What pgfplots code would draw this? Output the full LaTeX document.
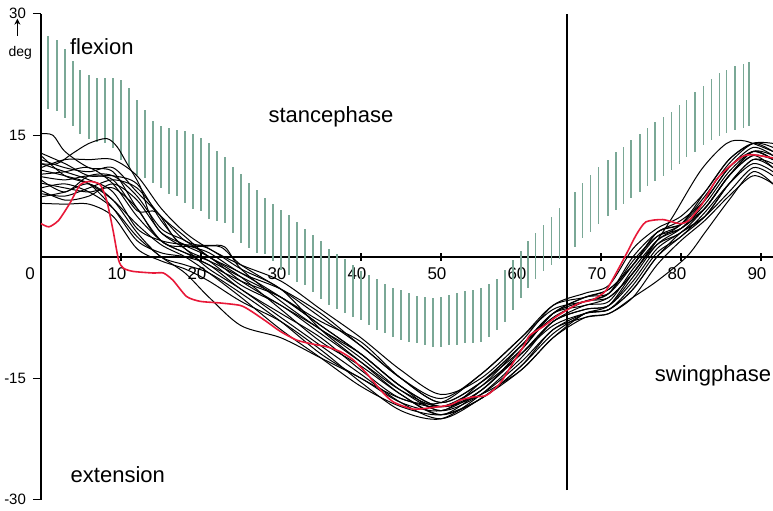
\documentclass[border=0pt]{standalone}
\usepackage{pgfplots}
\pgfplotsset{compat=1.18}
\usepackage{pgfplotstable}
\usetikzlibrary{arrows.meta}
\usepackage{fontspec}
\setmainfont{Liberation Sans}
\definecolor{bandc}{RGB}{122,168,150}
\definecolor{redc}{RGB}{232,24,56}

\pgfplotstableread{
x t b
0.9 27.3 18.2
2 26.8 18.0
3 25.7 17.1
4 24.2 16.1
4.9 23.1 15.1
6 22.4 14.5
7 22.1 14.2
8 22.1 14.0
9 22.1 13.4
10 21.8 11.9
11 20.8 11.1
12 19.4 10.1
13 18.1 9.7
14 16.8 9.1
15 16.1 8.5
16 15.9 7.7
17 15.7 7.5
18 15.5 6.6
19 15.2 5.9
20 14.7 5.6
21 14.0 4.7
22 13.1 4.4
23 12.3 4.2
24 11.1 3.0
25 10.2 1.7
26 9.1 1.1
27 8.2 0.5
28 7.3 0.4
29 6.5 -0.5
30 5.8 -1.6
31 5.2 -2.2
32 4.3 -3.1
33 3.4 -3.5
34 2.7 -4.4
35 1.9 -5.2
36 1.0 -5.9
37 0.4 -6.5
38 -0.3 -6.9
39 -1.0 -7.4
40 -1.7 -7.8
41 -2.2 -8.4
42 -2.8 -9.0
43 -3.3 -9.4
44 -3.8 -9.9
45 -4.1 -10.3
46 -4.5 -10.5
47 -4.8 -10.7
48 -5.0 -10.9
49 -5.1 -11.1
50 -5.0 -11.1
51 -4.7 -10.9
52 -4.5 -10.9
53 -4.2 -10.7
54 -4.1 -10.7
55 -3.8 -10.5
56 -3.3 -9.9
57 -2.7 -9.0
58 -1.6 -8.0
59 -0.4 -6.6
60 0.7 -5.1
60.9 1.9 -3.9
61.8 3.0 -2.7
62.8 3.9 -1.8
63.8 4.9 -1.0
64.8 6.0 -0.3
66.75 8.0 1.2
67.7 9.1 2.3
68.7 10.1 3.1
69.7 11.1 4.1
70.9 11.9 5.0
71.9 12.9 5.8
72.8 13.5 6.5
73.75 14.4 7.2
74.9 15.2 8.0
75.8 15.9 8.7
76.75 16.6 9.3
77.8 17.3 10.0
78.8 17.9 10.7
79.8 18.7 11.5
80.7 19.4 12.3
81.75 20.3 13.0
82.8 21.1 13.8
83.8 22.0 14.4
84.8 22.7 14.9
85.7 23.1 15.3
86.75 23.6 15.6
87.8 23.8 15.9
88.5 24.0 16.1
}\bandtable

\pgfplotsset{bl/.style={black, line width=0.5pt, smooth, tension=0.5, mark=none}}

\begin{document}
\begin{tikzpicture}
\begin{axis}[
  at={(0,0)}, anchor=origin,
  x=4pt, y=4.05pt,
  xmin=0, xmax=91.5, ymin=-30, ymax=30,
  enlargelimits=false,
  clip=false,
  axis x line=middle, axis y line=left,
  axis line style={-, line width=0.9pt, black},
  hide obscured x ticks=false,
  xtick={0,10,...,90}, ytick={-30,-15,15,30},
  xticklabels={\hspace*{-7pt}0,10,20,30,40,50,60,70,80,90},
  xtick align=center, ytick align=outside,
  major tick length=4pt,
  tick style={black, line width=0.6pt},
  /pgf/number format/assume math mode=true,
  yticklabel style={font=\fontsize{7.5}{8}\selectfont},
  xticklabel style={font=\fontsize{8.5}{9}\selectfont, xshift=-2pt, yshift=0pt},
]
\addplot[draw=none, mark=none, forget plot,
  error bars/.cd, y dir=both, y explicit, error mark=none,
  error bar style={draw=bandc, solid, line width=0.75pt}]
  table[x=x, y expr={(\thisrow{t}+\thisrow{b})/2}, y error expr={(\thisrow{t}-\thisrow{b})/2}] {\bandtable};

\addplot[black, line width=1pt, mark=none] coordinates {(65.7,-28.8)(65.7,30)};

\addplot[bl] coordinates {(0,11.5)(2,11.5)(4,12.8)(6,14)(8.2,14.6)(9.5,13.6)(10.7,11.6)(12.4,8.7)(13.5,5.5)(15,3)(18,1.5)(21,0.5)(25,-2)(30,-4)(35,-7)(40,-11)(45,-15)(50,-17.5)(55,-14.5)(60,-10)(64,-6)(68,-5)(71,-4)(74,-1)(77,2.5)(80,4)(83,8)(86,12)(89,14)(91.5,13)};
\addplot[bl] coordinates {(0,15.2)(1.5,15)(3,13)(6,11)(9,10.5)(12,6)(15,2)(18,0.5)(21,-1)(25,-3)(30,-5)(35,-8.5)(40,-12)(45,-16)(50,-19)(55,-15.5)(60,-11)(64,-7)(68,-6)(71,-5)(74,-2)(77,2)(80,3.5)(83,6)(86,10)(89,13)(91.5,12)};
\addplot[bl] coordinates {(0,12)(3,11)(6,10.5)(9,11)(12,8)(15,5)(18,2)(21,1)(25,-1.5)(30,-4)(35,-9)(40,-13)(45,-17)(50,-19.5)(55,-16.5)(60,-12)(64,-8)(68,-6.5)(71,-6)(74,-3)(77,1)(80,3)(83,5)(86,9)(89,12)(91.5,11)};
\addplot[bl] coordinates {(0,10.7)(3,10)(6,9)(9,6)(12,2)(15,0.5)(18,0)(21,-1)(25,-4)(30,-7)(35,-10)(40,-14)(45,-17.5)(50,-18)(55,-14.5)(60,-10)(64,-6.5)(68,-5.5)(71,-4.5)(74,0)(77,3)(80,4.5)(83,7)(86,11)(89,13.5)(91.5,12.5)};
\addplot[bl] coordinates {(0,9.9)(3,9.5)(6,10)(9,9.5)(12,5.7)(14.5,5.5)(17,2)(21,0)(25,-3)(30,-6)(35,-9)(40,-12.5)(45,-16.5)(50,-19)(55,-17)(60,-13)(64,-9)(68,-7)(71,-6.5)(74,-4)(77,0)(80,3)(83,5)(86,8)(89,11)(91.5,10)};
\addplot[bl] coordinates {(0,9.1)(3,8.5)(6,8)(9,8.5)(12,6)(14,3)(16,1.4)(20,1.3)(22.5,1.2)(25,-1)(30,-4)(35,-7.5)(40,-11)(45,-15)(50,-18)(55,-15.5)(60,-11.5)(64,-7)(68,-5)(71,-4)(74,-1)(77,3)(80,4)(83,6)(86,10)(89,12.5)(91.5,12)};
\addplot[bl] coordinates {(0,8.2)(3,7)(6,7.5)(9,9)(12,7)(15,3)(18,1)(21,-1.5)(25,-4)(30,-7.5)(35,-11)(40,-14.5)(45,-18)(50,-20)(55,-17.5)(60,-14)(64,-10)(68,-7)(71,-6.5)(74,-3.5)(77,0.5)(80,2.5)(83,5.5)(86,9)(89,11.5)(91.5,10.5)};
\addplot[bl] coordinates {(0,7.4)(3,8)(6,9)(9,7)(12,3)(15,0)(18,-1)(21,-2)(25,-4.5)(30,-8)(35,-12)(40,-15)(45,-17.5)(50,-18.5)(55,-16)(60,-12)(64,-8)(68,-6)(71,-5.5)(74,-1.5)(77,2)(80,4)(83,7.5)(86,11.5)(89,14)(91.5,13.5)};
\addplot[bl] coordinates {(0,6.6)(3,6.5)(6,6.5)(9,5)(12,1)(15,-0.5)(18,-1.5)(21,-3)(25,-5.5)(30,-8)(35,-11.5)(40,-15.5)(45,-19)(50,-20)(55,-17)(60,-12.5)(64,-8)(68,-6.5)(71,-6)(74,-2.5)(77,1.5)(80,3.5)(83,6.5)(86,10.5)(89,13)(91.5,12)};
\addplot[bl] coordinates {(0,11)(3,12)(6,12)(9,12)(12,10)(15,6)(18,3)(21,1)(25,-1)(30,-3)(35,-6.5)(40,-10)(45,-14)(50,-17)(55,-15)(60,-10.5)(64,-6)(68,-4.5)(71,-3.5)(74,1)(77,3.5)(80,5)(83,8)(86,12)(89,14)(91.5,14)};
\addplot[bl] coordinates {(0,12.5)(3,10)(6,9)(9,7)(12,4)(15,1.5)(18,0)(21,-2)(25,-5)(30,-9)(35,-12.5)(40,-16)(45,-18.5)(50,-19.5)(55,-17.5)(60,-13.5)(64,-9)(68,-7.5)(71,-7)(74,-5)(77,-1)(80,2)(83,4.5)(86,7.5)(89,10)(91.5,9)};
\addplot[bl] coordinates {(0,8.5)(3,9)(6,8)(9,6)(12,2.5)(15,0)(18,-2)(21,-5)(25,-8.5)(30,-10)(35,-12.5)(40,-15)(45,-18)(50,-19)(55,-16.5)(60,-12)(64,-8.5)(68,-7)(71,-6.5)(74,-4)(77,0)(80,2.5)(83,5)(86,9)(89,12)(91.5,11.5)};
\addplot[bl] coordinates {(0,10.2)(3,10.5)(6,11)(9,9)(12,5)(15,2)(18,0.5)(21,-0.5)(25,-2.5)(30,-5)(35,-8)(40,-10.5)(45,-15)(50,-18)(55,-15.5)(60,-11)(64,-7.5)(68,-5.5)(71,-4.5)(74,-0.5)(77,2.5)(80,3.5)(83,6)(86,10)(89,12.5)(91.5,11)};
\addplot[bl] coordinates {(0,9.5)(3,8)(6,10)(9,10)(12,7.5)(15,3.5)(18,2)(21,0)(25,-2.5)(30,-6.5)(35,-10.5)(40,-13.5)(45,-17)(50,-19.5)(55,-17.5)(60,-13.5)(64,-9.5)(68,-7)(71,-6)(74,-2)(77,1.5)(80,3)(83,6)(86,10)(89,13)(91.5,12.5)};
\addplot[bl] coordinates {(0,11.5)(3,10.5)(6,9.5)(9,8)(12,3.5)(15,2)(18,1.5)(21,1.4)(23,1.2)(25,-1.5)(30,-5.5)(35,-9)(40,-12)(45,-16)(50,-18.5)(55,-16.5)(60,-11.5)(64,-7)(68,-5)(71,-4.5)(74,-1)(77,3)(80,4)(83,7)(86,11)(89,13)(91.5,12)};
\addplot[bl] coordinates {(0,12.8)(3,11.5)(6,10)(9,10)(12,9)(15,4.5)(18,1)(21,-0.5)(25,-3.5)(30,-6)(35,-9.5)(40,-13)(45,-16.5)(50,-18.5)(55,-16)(60,-11)(64,-7)(68,-5.5)(71,-5)(74,-2)(77,2)(79,5)(82.5,10.7)(85.7,14)(88,14.3)(91.5,13)};
\addplot[bl] coordinates {(0,7.8)(3,7.5)(6,8.5)(9,9.5)(12,8.5)(15,5)(18,2.5)(21,0)(25,-2)(30,-5)(35,-8.5)(40,-12)(45,-16)(50,-18.5)(55,-17)(60,-14)(64,-10)(68,-7.5)(71,-7)(74,-5)(77,-3)(80.7,0)(83,3)(86,7)(89,10.5)(91.5,9)};

\addplot[redc, line width=0.8pt, smooth, tension=0.4, mark=none] coordinates {
(0,4.1)(1,3.7)(2.2,4.5)(3.6,6.6)(4.9,8.9)(6.1,9.3)(7.4,8.9)(8.2,7.0)(9.0,3.3)(9.7,-0.4)(10.3,-1.4)(11.5,-1.8)(14,-2.0)(15.3,-2.0)(16.5,-2.9)(18.2,-4.9)(19.9,-5.5)(22.4,-5.7)(24.9,-6.0)(26.1,-6.6)(28.2,-8.0)(29.9,-9.2)(32,-10.3)(34.1,-10.8)(35.7,-11.1)(37.4,-11.7)(39,-12.7)(40.7,-14.4)(42.4,-16.4)(44,-17.9)(46.5,-18.8)(49,-18.6)(51.1,-18.3)(52.4,-17.7)(54,-17.3)(55.7,-17.1)(57.4,-15.6)(59,-13.1)(60.3,-11.1)(61.1,-9.7)(62.8,-8.6)(64.4,-7.4)(65.7,-6.6)(67.3,-5.7)(69,-5.3)(70.6,-4.2)(71.9,-2.0)(73.2,0.4)(74.4,2.7)(75.6,4.3)(77.7,4.6)(79.8,4.1)(81,4.5)(82.7,6.6)(84.4,9.5)(86,11.1)(87.7,12.4)(89,12.6)(91.5,12.2)};

\node[font=\fontsize{11}{13}\selectfont] at (axis cs:7.6,26.0) {flexion};
\node[font=\fontsize{11}{13}\selectfont] at (axis cs:36.25,17.25) {stancephase};
\node[font=\fontsize{11}{13}\selectfont] at (axis cs:84,-14.7) {swingphase};
\node[font=\fontsize{11}{13}\selectfont] at (axis cs:9.6,-26.9) {extension};
\node[font=\fontsize{7}{8}\selectfont] at (axis cs:-2.6,25.2) {deg};
\draw[-{Stealth[length=3pt,width=3pt]}, line width=0.6pt] (axis cs:-2.95,27.3) -- (axis cs:-2.95,29.4);
\end{axis}
\pgfresetboundingbox
\path[use as bounding box] (-20.5pt,-126.6pt) rectangle (366pt,128.4pt);
\end{tikzpicture}
\end{document}
